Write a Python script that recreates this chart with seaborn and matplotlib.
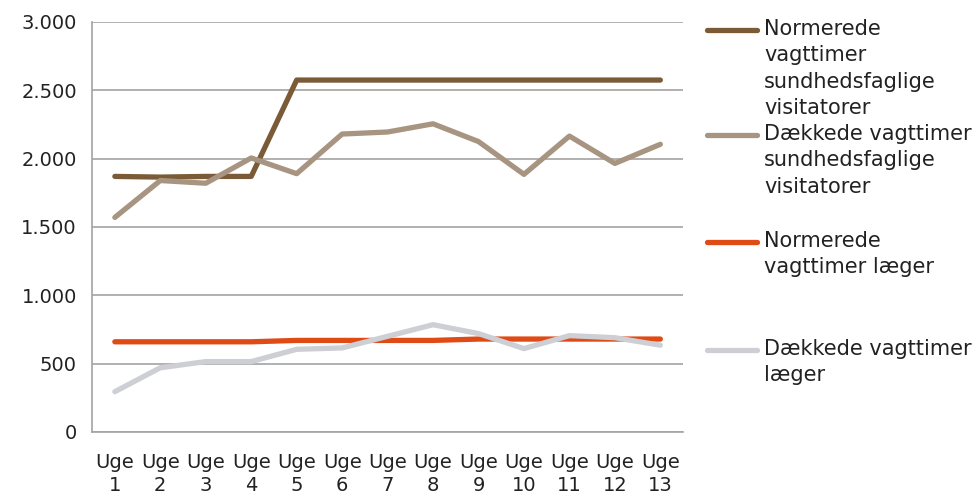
import matplotlib
matplotlib.use("Agg")
import matplotlib.pyplot as plt
from matplotlib.ticker import FuncFormatter, FixedLocator, MultipleLocator
from matplotlib.lines import Line2D
import seaborn as sns
import pandas as pd

weeks = ["Uge\n1", "Uge\n2", "Uge\n3", "Uge\n4", "Uge\n5", "Uge\n6", "Uge\n7",
         "Uge\n8", "Uge\n9", "Uge\n10", "Uge\n11", "Uge\n12", "Uge\n13"]

norm_sf = [1870, 1865, 1870, 1870, 2575, 2575, 2575, 2575, 2575, 2575, 2575, 2575, 2575]
daek_sf = [1570, 1840, 1820, 2005, 1890, 2180, 2195, 2255, 2125, 1885, 2165, 1965, 2105]
norm_laeger = [660, 660, 660, 660, 670, 670, 670, 670, 680, 680, 680, 680, 680]
daek_laeger = [295, 470, 515, 515, 605, 615, 700, 785, 720, 610, 705, 690, 635]

series_names = [
    "Normerede\nvagttimer\nsundhedsfaglige\nvisitatorer",
    "Dækkede vagttimer\nsundhedsfaglige\nvisitatorer",
    "Normerede\nvagttimer læger",
    "Dækkede vagttimer\nlæger",
]
colors = ["#7B5B37", "#A89581", "#E04A14", "#CDCFD4"]

frames = []
for name, vals in zip(series_names, [norm_sf, daek_sf, norm_laeger, daek_laeger]):
    frames.append(pd.DataFrame({"pos": range(len(weeks)), "value": vals, "serie": name}))
df = pd.concat(frames, ignore_index=True)

sns.set_style("white")
plt.rcParams["font.family"] = ["DejaVu Sans"]

W, H = 980, 495
fig = plt.figure(figsize=(W / 100, H / 100), dpi=100)
ax = fig.add_axes([0.094, 0.1273, 0.603, 0.8283])

sns.lineplot(data=df, x="pos", y="value", hue="serie", hue_order=series_names,
             palette=colors, linewidth=3.8, ax=ax, legend=False,
             solid_capstyle="round", zorder=3)

ax.set_xlim(-0.5, len(weeks) - 0.5)
ax.set_ylim(0, 3000)
ax.yaxis.set_major_locator(MultipleLocator(500))
ax.yaxis.set_major_formatter(FuncFormatter(lambda v, p: f"{int(v):,}".replace(",", ".")))
ax.grid(axis="y", color="#A3A3A3", linewidth=1.2, zorder=0)
ax.grid(axis="x", visible=False)

ax.set_xticks(range(len(weeks)))
ax.set_xticklabels(weeks, linespacing=1.3)
ax.xaxis.set_minor_locator(FixedLocator([i - 0.5 for i in range(len(weeks) + 1)]))
ax.tick_params(axis="x", which="major", length=0, pad=15, labelsize=14, labelcolor="#222222")
ax.tick_params(axis="x", which="minor", length=6, width=1.2, color="#A3A3A3", direction="out")
ax.tick_params(axis="y", which="major", length=5, width=1.2, color="#A3A3A3",
               direction="out", labelsize=14, labelcolor="#222222", pad=6)
ax.set_xlabel("")
ax.set_ylabel("")

for side in ["top", "right"]:
    ax.spines[side].set_visible(False)
for side in ["left", "bottom"]:
    ax.spines[side].set_color("#A3A3A3")
    ax.spines[side].set_linewidth(1.2)

# key on the right: a line sample next to the first text row of each series
key_rows = [30, 135, 242, 350]
for name, col, row in zip(series_names, colors, key_rows):
    yf = 1 - row / H
    fig.add_artist(Line2D([707 / W, 757 / W], [yf, yf], color=col, linewidth=3.8,
                          solid_capstyle="round", transform=fig.transFigure))
    fig.text(764 / W, 1 - (row - 11) / H, name, ha="left", va="top",
             fontsize=15, color="#222222", linespacing=1.4)

fig.savefig("out.png", dpi=100)
